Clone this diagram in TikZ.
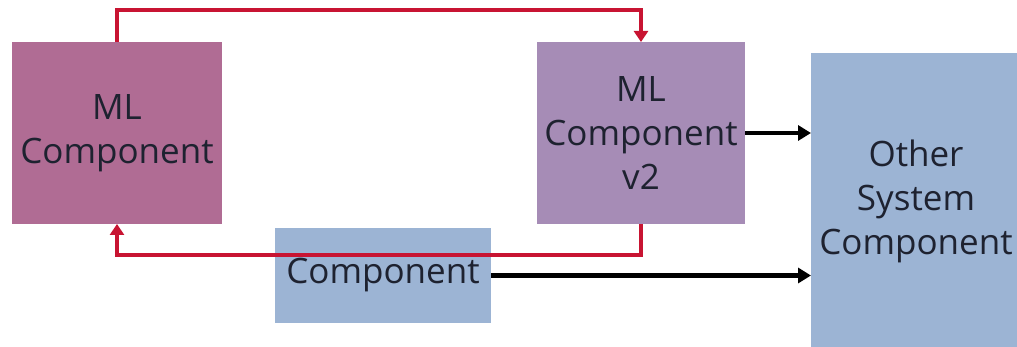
\documentclass[tikz,border=0pt]{standalone}
\usepackage{fontspec}
\setmainfont{Open Sans}
\usetikzlibrary{arrows.meta}
\definecolor{mlpink}{RGB}{176,108,148}
\definecolor{mlpurple}{RGB}{166,140,182}
\definecolor{compblue}{RGB}{156,180,212}
\definecolor{linkred}{RGB}{200,20,50}
\definecolor{txt}{RGB}{30,34,48}
\tikzset{
  box/.style={draw=none, inner sep=0pt, outer sep=0pt, align=center, text=txt,
    font=\fontsize{35}{44}\selectfont},
  redlink/.style={draw=linkred, line width=4pt, -{Triangle[length=11pt,width=14pt]}},
  blacklink/.style={draw=black, line width=4.5pt, -{Triangle[length=13pt,width=15pt]}}
}
\begin{document}
\begin{tikzpicture}[x=1pt,y=-1pt]
\useasboundingbox (0,0) rectangle (1017,347);
\node[box, fill=mlpink, minimum width=210pt, minimum height=182pt] (ml) at (117,133) {ML\\Component};
\node[box, fill=mlpurple, minimum width=208pt, minimum height=182pt] (v2) at (641,133) {ML\\Component\\v2};
\node[box, fill=compblue, minimum width=216pt, minimum height=95pt] (comp) at (383,275.5) {Component};
\node[box, fill=compblue, minimum width=210pt, minimum height=296pt] (other) at (916,201) {Other\\System\\Component};
\coordinate (topy) at (0,10);
\coordinate (boty) at (0,255);
\draw[redlink] (ml.north) |- (v2.north |- topy) -- (v2.north);
\draw[redlink] (v2.south) |- (ml.south |- boty) -- (ml.south);
\draw[blacklink] (v2.east) -- (v2.east -| other.west);
\draw[blacklink] (comp.east) -- (comp.east -| other.west);
\end{tikzpicture}
\end{document}
